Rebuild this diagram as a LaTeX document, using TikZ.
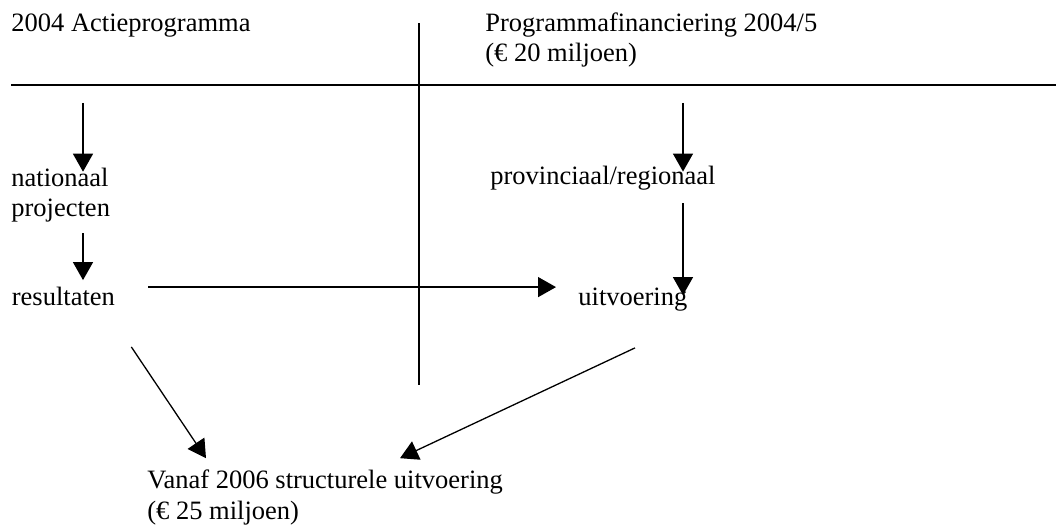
\documentclass[tikz,border=0pt]{standalone}
\usepackage{fontspec}
\setmainfont{Liberation Serif}
\usetikzlibrary{arrows.meta}

\begin{document}
\begin{tikzpicture}[x=0.5pt,y=-0.5pt,
  font=\fontsize{13.25}{15.2}\selectfont,
  lbl/.style={inner sep=0pt,anchor=base west,align=left,
    text height=9pt,text depth=3pt},
  lbltwo/.style={lbl,text height=24.2pt},
  rule/.style={line width=0.75pt,color=black},
  arr/.style={-{Triangle[length=9pt,width=10pt]},line width=0.65pt}
]
\useasboundingbox (0,0) rectangle (1056,529);
% Header row and dividing lines.
\node[lbl] (act) at (11,32) {2004 Actieprogramma};
\node[lbltwo] (fin) at (485,62) {Programmafinanciering 2004/5\\(€ 20 miljoen)};
\coordinate (ruleW) at (11,85);
\coordinate (ruleE) at (1056,85);
\coordinate (divN) at (419,23.5);
\coordinate (divS) at (419,385);
\draw[rule] (ruleW) -- (ruleE);
\draw[rule] (divN) -- (divS);

% Two lanes below the rule.
\coordinate (colL) at (83,0);
\coordinate (colR) at (683,0);
\node[lbltwo] (nat) at (11,216.5) {nationaal\\projecten};
\node[lbl] (prov) at (490,185) {provinciaal/regionaal};
\node[lbl] (res) at (11.5,305.5) {resultaten};
\node[lbl] (uit) at (578,305.5) {uitvoering};
\node[lbltwo] (struc) at (147,519) {Vanaf 2006 structurele uitvoering\\(€ 25 miljoen)};

% Arrows.
\draw[arr,shorten <=9pt,shorten >=-2pt] (ruleW -| colL) -- (nat.north -| colL);
\draw[arr,shorten <=9pt,shorten >=-2.5pt] (ruleE -| colR) -- (prov.north -| colR);
\draw[arr,shorten <=5.3pt,shorten >=3.5pt] (nat.south -| colL) -- (res.north -| colL);
\draw[arr,shorten <=6pt,shorten >=-4pt] (prov.south -| colR) -- (uit.north -| colR);
\draw[arr,shorten <=16.5pt,shorten >=11pt] (res.north east) -- (uit.north west);
\draw[arr] ([shift={(16,35)}]res.south east) -- ([shift={(59,-12)}]struc.north west);
\draw[arr] ([shift={(57,36)}]uit.south west) -- ([shift={(253,-12)}]struc.north west);
\end{tikzpicture}
\end{document}
